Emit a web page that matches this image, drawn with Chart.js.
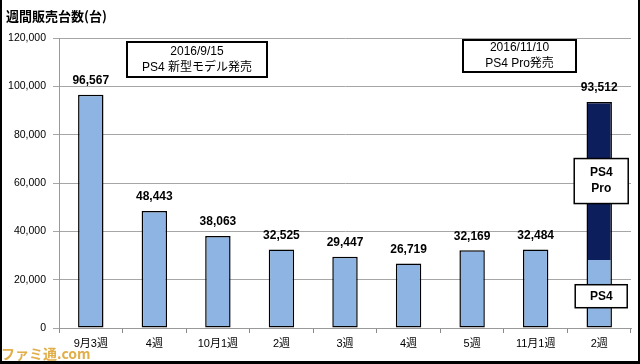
<!DOCTYPE html>
<html>
<head>
<meta charset="utf-8">
<script src="https://cdn.jsdelivr.net/npm/chart.js@4/dist/chart.umd.min.js"></script>
<style>
html,body{margin:0;padding:0;background:#fff;}
canvas{display:block;}
</style>
</head>
<body>
<canvas id="c" width="640" height="364"></canvas>
<script>
const categories = ["9月3週","4週","10月1週","2週","3週","4週","5週","11月1週","2週"];
const ps4Sales = [96567, 48443, 38063, 32525, 29447, 26719, 32169, 32484, 28100];
const ps4ProSales = [null, null, null, null, null, null, null, null, 65412];
const yTicks = [0, 20000, 40000, 60000, 80000, 100000, 120000];
const chartTitle = "週間販売台数(台)";
const notes = [
  {index: 0.5, lines: ["2016/9/15", "PS4 新型モデル発売"]},
  {index: 7.0, lines: ["2016/11/10", "PS4 Pro発売"]}
];

const FONT = '"Liberation Sans", Arial, "Noto Sans CJK JP", sans-serif';
const last = categories.length - 1;

const fmt = v => v.toLocaleString('en-US');

const overlay = {
  id: 'overlay',
  afterDatasetsDraw(chart) {
    const ctx = chart.ctx;
    const m0 = chart.getDatasetMeta(0), m1 = chart.getDatasetMeta(1);
    ctx.save();
    // value labels
    ctx.fillStyle = '#000';
    ctx.font = 'bold 12px ' + FONT;
    ctx.textAlign = 'center';
    ctx.textBaseline = 'bottom';
    categories.forEach((c, i) => {
      const total = (ps4Sales[i] || 0) + (ps4ProSales[i] || 0);
      const el = ps4ProSales[i] != null ? m1.data[i] : m0.data[i];
      ctx.fillText(fmt(total), el.x, el.y - 8);
    });
    const drawBox = (cx, cy, w, h, lines, bold) => {
      ctx.fillStyle = '#fff';
      ctx.fillRect(cx - w/2, cy - h/2, w, h);
      ctx.strokeStyle = '#000';
      ctx.strokeRect(cx - w/2, cy - h/2, w, h);
      ctx.fillStyle = '#000';
      ctx.font = (bold ? 'bold 12px ' : '12px ') + FONT;
      ctx.textBaseline = 'middle';
      const lh = bold ? 16 : 16;
      lines.forEach((t, k) => {
        ctx.fillText(t, cx, cy + (k - (lines.length - 1) / 2) * lh);
      });
    };
    const y = chart.scales.y;
    const bx = m1.data[last].x + 2;
    ctx.lineWidth = 1.5;
    drawBox(bx, y.getPixelForValue(ps4Sales[last] + ps4ProSales[last] / 2), 54, 45, ["PS4", "Pro"], true);
    drawBox(bx, y.getPixelForValue(ps4Sales[last] / 2 - 900), 52, 23, ["PS4"], true);
    // event notes
    ctx.lineWidth = 2;
    drawBox(197, 59.5, 140, 35, notes[0].lines, false);
    drawBox(519.5, 56, 113, 32, notes[1].lines, false);
    // title
    ctx.textAlign = 'left';
    ctx.textBaseline = 'middle';
    ctx.fillStyle = '#000';
    ctx.font = 'bold 13px "Noto Sans CJK JP", sans-serif';
    ctx.fillText(chartTitle, 6, 16);
    // watermark
    ctx.font = 'bold 14px "Noto Sans CJK JP", sans-serif';
    ctx.fillStyle = 'rgba(220,160,40,0.85)';
    ctx.fillText("ファミ通.com", 1, 354);
    // frame
    ctx.fillStyle = '#000';
    ctx.fillRect(0, 0, 2, 364);
    ctx.fillRect(638, 0, 2, 364);
    ctx.fillRect(0, 361, 640, 3);
    ctx.restore();
  }
};

new Chart(document.getElementById('c'), {
  type: 'bar',
  data: {
    labels: categories,
    datasets: [
      {
        label: 'PS4',
        data: ps4Sales,
        backgroundColor: '#8db4e2',
        borderColor: '#000',
        borderSkipped: false,
        borderWidth: ctx => ctx.dataIndex === last ? {top: 0, left: 1.5, right: 1.5, bottom: 1.5} : 1.5,
        barPercentage: 0.40,
        categoryPercentage: 1.0
      },
      {
        label: 'PS4 Pro',
        data: ps4ProSales,
        backgroundColor: '#0c1f5c',
        borderColor: '#000',
        borderSkipped: false,
        borderWidth: {top: 1.5, left: 1.5, right: 1.5, bottom: 0},
        barPercentage: 0.40,
        categoryPercentage: 1.0
      }
    ]
  },
  options: {
    responsive: false,
    animation: false,
    devicePixelRatio: 1,
    layout: {padding: {top: 38, right: 9, left: 0, bottom: 0}},
    plugins: {legend: {display: false}, tooltip: {enabled: false}},
    scales: {
      x: {
        stacked: true,
        grid: {offset: true, drawOnChartArea: false, tickLength: 5, color: '#888'},
        border: {color: '#999'},
        ticks: {color: '#000', font: {size: 11, family: FONT}, padding: 4, maxRotation: 0, autoSkip: false},
        afterFit: s => { s.height = 36; }
      },
      y: {
        stacked: true,
        min: 0,
        max: 120000,
        afterBuildTicks: s => { s.ticks = yTicks.map(v => ({value: v})); },
        grid: {color: '#a6a6a6', tickLength: 6},
        border: {color: '#999'},
        ticks: {color: '#000', font: {size: 10.5, family: FONT}, padding: 7, callback: v => fmt(v)},
        afterFit: s => { s.width = 59; }
      }
    }
  },
  plugins: [overlay]
});
</script>
</body>
</html>
